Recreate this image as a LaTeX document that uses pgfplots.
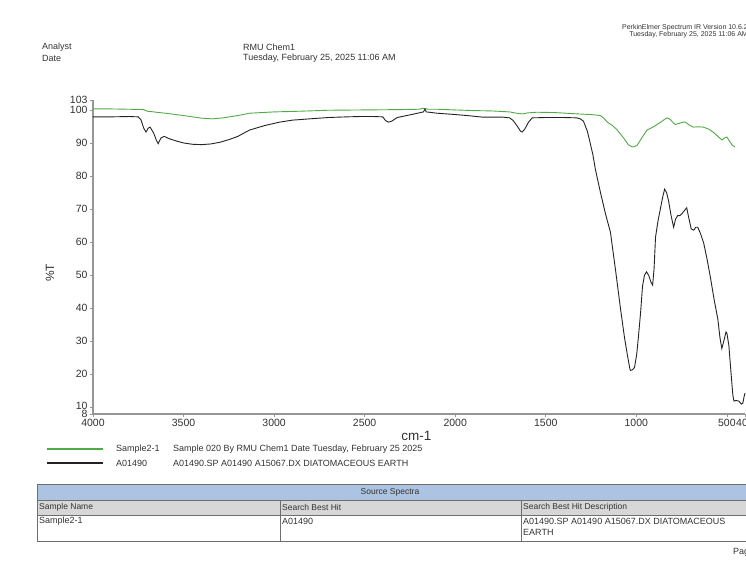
\documentclass[border=0pt]{standalone}
\usepackage{fontspec}
\setmainfont{Liberation Sans}
\usepackage{pgfplots}
\pgfplotsset{compat=1.18}
\definecolor{specgreen}{RGB}{80,170,70}
\definecolor{specblack}{RGB}{35,35,35}
\definecolor{axisgray}{RGB}{150,150,150}
\definecolor{tabblue}{RGB}{172,196,226}
\definecolor{tabgray}{RGB}{215,215,215}
\definecolor{tabline}{RGB}{110,110,110}
\definecolor{txt}{RGB}{50,50,50}
\begin{document}
\begin{tikzpicture}[x=1pt,y=1pt]
\begin{axis}[
  at={(93pt,148pt)}, anchor=south west,
  width=652pt, height=314pt, scale only axis,
  x dir=reverse, xmin=400, xmax=4000, ymin=8, ymax=103,
  axis lines*=left,
  axis line style={axisgray, line width=1.1pt},
  xtick={4000,3500,3000,2500,2000,1500,1000,500,400},
  ytick={8,10,20,30,40,50,60,70,80,90,100,103},
  yticklabels={8,\raisebox{3pt}{10},20,30,40,50,60,70,80,90,100,103},
  tick style={axisgray, line width=0.6pt},
  major tick length=3pt,
  tick align=outside,
  /pgf/number format/1000 sep={},
  /pgf/number format/assume math mode=true,
  tick label style={font=\fontsize{10.5}{12}\selectfont, text=txt},
  xticklabel style={yshift=1pt},
  yticklabel style={xshift=1pt},
  xlabel={cm-1},
  xlabel style={at={(axis description cs:0.496,-0.070)}, anchor=center, font=\fontsize{13.5}{15}\selectfont, text=txt},
  ylabel={\%T},
  ylabel style={at={(axis description cs:-0.066,0.45)}, anchor=center, rotate=0, font=\fontsize{12}{14}\selectfont, text=txt},
  clip=false,
]
\addplot[specgreen, line width=0.9pt] coordinates {
(4000,100.3) (3900,100.3) (3800,100.2) (3720,100.1) (3700,99.6) (3680,99.5)
(3650,99.3) (3600,99.0) (3500,98.3) (3400,97.5) (3341,97.3) (3280,97.6)
(3200,98.3) (3136,99.0) (3000,99.4) (2860,99.6) (2700,99.9) (2500,100.0)
(2300,100.1) (2200,100.2) (2178,100.5) (2150,100.2) (2100,100.2) (2000,100.0)
(1900,99.8) (1800,99.7) (1700,99.4) (1660,99.0) (1630,98.8) (1600,99.1)
(1550,99.3) (1450,99.2) (1325,98.8) (1250,98.6) (1198,98.3) (1180,97.5)
(1160,96.3) (1130,95.2) (1105,93.9) (1070,91.5) (1045,89.5) (1023,88.8)
(1010,88.9) (996,89.3) (970,91.5) (941,93.9) (915,94.6) (894,95.3)
(860,96.5) (840,97.3) (828,97.6) (810,97.0) (795,96.0) (784,95.6)
(760,96.0) (740,96.3) (728,96.3) (710,95.5) (686,94.8) (660,94.9)
(631,94.8) (600,94.2) (576,93.3) (550,92.0) (527,90.9) (515,91.5)
(500,91.8) (485,90.5) (470,89.3) (455,88.8)
};
\addplot[specblack, line width=0.9pt] coordinates {
(4000,97.9) (3900,97.9) (3800,98.0) (3750,97.9) (3735,97.0) (3720,94.5)
(3707,93.3) (3695,94.5) (3685,94.8) (3665,93.0) (3650,90.8) (3640,89.8)
(3625,91.5) (3607,92.0) (3580,91.3) (3540,90.6) (3500,90.0) (3450,89.6)
(3400,89.5) (3350,89.7) (3300,90.2) (3250,91.0) (3200,92.0) (3136,93.9)
(3050,95.3) (2970,96.3) (2900,96.9) (2804,97.3) (2700,97.7) (2600,97.9)
(2527,98.0) (2450,98.0) (2400,97.9) (2385,96.8) (2370,96.3) (2350,96.6)
(2320,97.7) (2250,98.5) (2200,99.1) (2175,99.4) (2167,100.3) (2160,99.4)
(2130,99.2) (2100,99.0) (2050,98.8) (2000,98.6) (1935,98.3) (1846,97.8)
(1735,97.8) (1700,97.6) (1680,96.8) (1660,95.3) (1640,93.6) (1630,93.3)
(1615,94.3) (1595,96.3) (1575,97.6) (1500,97.7) (1400,97.7) (1330,97.6)
(1309,97.3) (1292,96.6) (1270,93.5) (1255,90.0) (1240,86.5) (1226,82.0)
(1210,78.0) (1198,75.0) (1170,68.5) (1143,63.0) (1115,51.6) (1087,39.7)
(1065,31.0) (1049,25.7) (1035,21.5) (1032,21.2) (1020,21.4) (1010,22.1)
(998,26.0) (988,31.6) (976,39.0) (966,46.6) (955,50.0) (944,51.0)
(932,50.0) (920,48.0) (910,47.0) (902,52.0) (894,61.5) (880,66.5)
(866,70.4) (855,73.5) (844,76.0) (833,75.0) (822,72.5) (808,68.0)
(794,64.5) (783,67.0) (772,68.0) (760,68.0) (750,68.5) (735,69.5)
(722,70.4) (711,67.5) (697,64.0) (683,63.6) (672,64.5) (661,64.5)
(645,62.5) (628,59.7) (610,55.0) (589,48.7) (570,42.5) (550,36.7)
(538,31.0) (528,27.8) (515,30.5) (505,32.8) (500,32.5) (489,28.7)
(478,21.0) (467,13.7) (461,11.9) (450,12.1) (434,11.9) (420,11.0)
(412,11.3) (404,13.5) (400,14.3)
};
\end{axis}
% header
\begin{scope}[every node/.style={inner sep=0pt, text=txt, font=\fontsize{9}{10}\selectfont}]
\node[anchor=west] at (42,515) {Analyst};
\node[anchor=west] at (42,504) {Date};
\node[anchor=west] at (243,515) {RMU Chem1};
\node[anchor=west] at (243,504) {Tuesday, February 25, 2025 11:06 AM};
\node[anchor=east, font=\fontsize{7}{8}\selectfont] at (748,534) {PerkinElmer Spectrum IR Version 10.6.2};
\node[anchor=east, font=\fontsize{7}{8}\selectfont] at (748,527) {Tuesday, February 25, 2025 11:06 AM};
% legend
\draw[specgreen, line width=1.3pt] (47,113) -- (103,113);
\draw[specblack, line width=1.3pt] (47,99) -- (103,99);
\node[anchor=west] at (116,113) {Sample2-1};
\node[anchor=west] at (173,113) {Sample 020 By RMU Chem1 Date Tuesday, February 25 2025};
\node[anchor=west] at (116,99) {A01490};
\node[anchor=west] at (173,99) {A01490.SP A01490 A15067.DX DIATOMACEOUS EARTH};
% table
\fill[tabblue] (37,62) rectangle (770,78);
\fill[tabgray] (37,47) rectangle (770,62);
\draw[tabline, line width=1pt] (37,21) rectangle (770,78);
\draw[tabline, line width=0.8pt] (37,62) -- (770,62);
\draw[tabline, line width=0.8pt] (37,47) -- (770,47);
\draw[tabline, line width=0.8pt] (280,21) -- (280,62);
\draw[tabline, line width=0.8pt] (521,21) -- (521,62);
\node[anchor=center, font=\fontsize{8.5}{9}\selectfont] at (390,70) {Source Spectra};
\node[anchor=west, font=\fontsize{8.5}{9}\selectfont] at (39,54.5) {Sample Name};
\node[anchor=west, font=\fontsize{8.5}{9}\selectfont] at (282,54.5) {Search Best Hit};
\node[anchor=west, font=\fontsize{8.5}{9}\selectfont] at (523,54.5) {Search Best Hit Description};
\node[anchor=west] at (39,41) {Sample2-1};
\node[anchor=west] at (282,41) {A01490};
\node[anchor=west] at (523,41) {A01490.SP A01490 A15067.DX DIATOMACEOUS};
\node[anchor=west] at (523,30) {EARTH};
\node[anchor=west] at (733,10) {Page 1 of 1};
\end{scope}
\pgfresetboundingbox
\useasboundingbox (0,0) rectangle (746,562);
\end{tikzpicture}
\end{document}
